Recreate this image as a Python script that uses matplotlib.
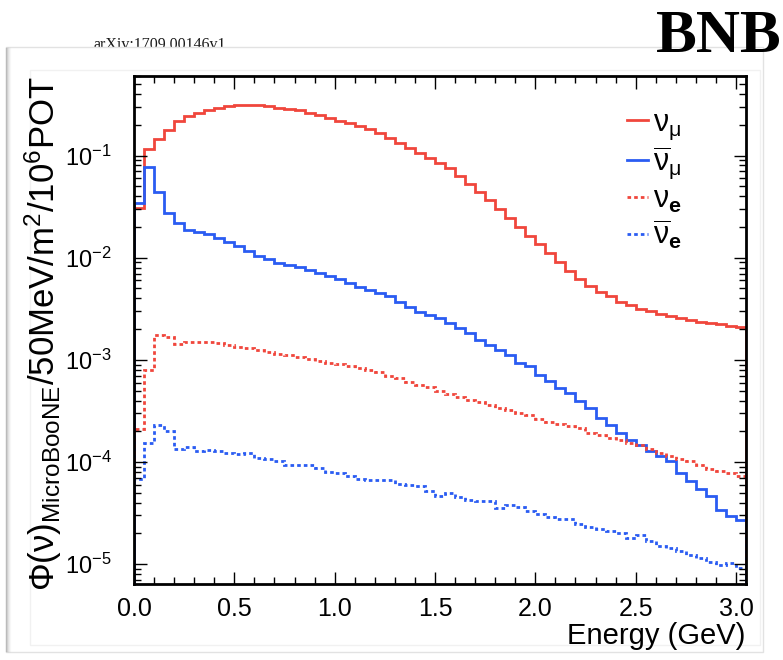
import numpy as np
import matplotlib
matplotlib.use("Agg")
import matplotlib.pyplot as plt
from matplotlib import font_manager
from matplotlib.patches import Rectangle
from matplotlib.lines import Line2D
from matplotlib.ticker import LogLocator, MultipleLocator, NullFormatter

plt.rcParams['font.family'] = ['Liberation Sans', 'DejaVu Sans']
plt.rcParams['mathtext.fontset'] = 'custom'
plt.rcParams['mathtext.rm'] = 'Liberation Sans'
plt.rcParams['mathtext.it'] = 'Liberation Sans'
plt.rcParams['mathtext.bf'] = 'Liberation Sans:bold'
plt.rcParams['axes.unicode_minus'] = False

# 50 MeV bins from 0 to 3.05 GeV
bin_width = 0.05
n_bins = 61
edges = np.arange(n_bins + 1) * bin_width

# flux per 50 MeV / m^2 / 1e6 POT
numu = [0.0307, 0.116, 0.146, 0.176, 0.220, 0.243, 0.262, 0.276, 0.291, 0.302,
        0.309, 0.311, 0.309, 0.305, 0.293, 0.287, 0.278, 0.262, 0.248, 0.234,
        0.220, 0.209, 0.194, 0.180, 0.167, 0.149, 0.133, 0.119, 0.106, 0.0948,
        0.0851, 0.0759, 0.0637, 0.0527, 0.0437, 0.0363, 0.0302, 0.0243, 0.0200, 0.0164,
        0.0135, 0.0112, 0.0090, 0.00746, 0.00617, 0.00525, 0.00457, 0.00417, 0.00372, 0.00344,
        0.00318, 0.00298, 0.00282, 0.00266, 0.00254, 0.00245, 0.00236, 0.00229, 0.00224, 0.00215,
        0.00211]

numubar = [0.0344, 0.0769, 0.0441, 0.0274, 0.0219, 0.0188, 0.0178, 0.0171, 0.0156, 0.0141,
           0.0129, 0.0115, 0.0105, 0.0097, 0.00887, 0.00847, 0.00802, 0.00759, 0.00711, 0.00667,
           0.00612, 0.00562, 0.00521, 0.00483, 0.00449, 0.00417, 0.00372, 0.00332, 0.00296, 0.00275,
           0.00255, 0.00228, 0.00204, 0.00182, 0.00157, 0.00140, 0.00126, 0.00112, 0.000927, 0.000861,
           0.000713, 0.000617, 0.000528, 0.000472, 0.000392, 0.000339, 0.000269, 0.000232, 0.000192, 0.000166,
           0.000148, 0.000127, 0.000114, 0.000102, 7.76e-5, 6.46e-5, 5.50e-5, 4.68e-5, 3.39e-5, 2.95e-5,
           2.69e-5]

nue = [2.09e-4, 7.94e-4, 1.75e-3, 1.68e-3, 1.43e-3, 1.48e-3, 1.51e-3, 1.51e-3, 1.45e-3, 1.41e-3,
       1.35e-3, 1.32e-3, 1.24e-3, 1.20e-3, 1.15e-3, 1.11e-3, 1.07e-3, 1.02e-3, 9.77e-4, 9.42e-4,
       9.12e-4, 8.71e-4, 8.32e-4, 7.94e-4, 7.59e-4, 6.92e-4, 6.61e-4, 6.05e-4, 5.70e-4, 5.37e-4,
       5.01e-4, 4.62e-4, 4.37e-4, 4.07e-4, 3.89e-4, 3.58e-4, 3.39e-4, 3.20e-4, 3.02e-4, 2.90e-4,
       2.63e-4, 2.45e-4, 2.34e-4, 2.24e-4, 2.15e-4, 1.92e-4, 1.85e-4, 1.72e-4, 1.66e-4, 1.55e-4,
       1.48e-4, 1.35e-4, 1.23e-4, 1.14e-4, 1.08e-4, 1.03e-4, 9.42e-5, 8.61e-5, 8.13e-5, 7.82e-5,
       7.24e-5]

nuebar = [6.76e-5, 1.55e-4, 2.29e-4, 2.00e-4, 1.33e-4, 1.40e-4, 1.29e-4, 1.32e-4, 1.27e-4, 1.23e-4,
          1.19e-4, 1.23e-4, 1.10e-4, 1.06e-4, 1.02e-4, 9.42e-5, 9.33e-5, 9.33e-5, 8.81e-5, 7.94e-5,
          7.76e-5, 7.29e-5, 6.76e-5, 6.67e-5, 6.67e-5, 6.61e-5, 6.05e-5, 5.92e-5, 5.78e-5, 5.16e-5,
          4.68e-5, 5.01e-5, 4.57e-5, 4.29e-5, 4.17e-5, 4.13e-5, 3.55e-5, 3.80e-5, 3.63e-5, 3.31e-5,
          3.09e-5, 2.88e-5, 2.75e-5, 2.75e-5, 2.45e-5, 2.32e-5, 2.19e-5, 2.09e-5, 2.04e-5, 1.82e-5,
          1.91e-5, 1.68e-5, 1.51e-5, 1.45e-5, 1.35e-5, 1.24e-5, 1.15e-5, 1.05e-5, 9.77e-6, 1.02e-5,
          9.12e-6]

labels = [r'$\nu_{\mu}$', r'$\overline{\nu}_{\mu}$', r'$\nu_{\mathbf{e}}$', r'$\overline{\nu}_{\mathbf{e}}$']

RED = '#f0463c'
BLUE = '#2a5cf2'
DOTTED = (0, (1.3, 1.1))

W, H = 783, 660


def fx(x):
    return x / W


def fy(y):
    return 1 - y / H


installed = {f.name for f in font_manager.fontManager.ttflist}
stamp_family = 'Liberation Sans Narrow' if 'Liberation Sans Narrow' in installed else 'Liberation Serif'

fig = plt.figure(figsize=(W / 100, H / 100), dpi=100)

# page frame around the plot
fig.text(fx(93), fy(49), 'arXiv:1709.00146v1', family=stamp_family,
         fontsize=11.5, color='#1a1a1a', ha='left', va='baseline', zorder=-3)
fig.add_artist(Rectangle((fx(6), fy(652)), fx(763) - fx(6), fy(47) - fy(652),
                         transform=fig.transFigure, facecolor='white',
                         edgecolor='#e2e2e2', lw=1.0, zorder=-2))
for i, a in enumerate([0.35, 0.25, 0.16, 0.09, 0.04]):
    fig.add_artist(Line2D([fx(6 + i), fx(6 + i)], [fy(48), fy(651)],
                          transform=fig.transFigure, color='#808080', alpha=a,
                          lw=1.0, zorder=-1.5))
fig.add_artist(Rectangle((fx(30), fy(645)), fx(760) - fx(30), fy(70) - fy(645),
                         transform=fig.transFigure, facecolor='none',
                         edgecolor='#f1f1f1', lw=1.0, zorder=-1))
fig.text(fx(782), fy(37), 'BNB', family='Liberation Serif', fontweight='bold',
         fontsize=44, ha='right', va='center', color='black')

ax = fig.add_axes([fx(134), fy(584), fx(746) - fx(134), fy(76) - fy(584)])
ax.set_yscale('log')

series = [(numu, RED, '-'), (numubar, BLUE, '-'), (nue, RED, DOTTED), (nuebar, BLUE, DOTTED)]
handles = []
for vals, color, ls in series:
    ax.stairs(vals, edges, baseline=1e-8, color=color, lw=2.0, linestyle=ls)
    handles.append(Line2D([], [], color=color, lw=2.0, linestyle=ls))

ax.set_xlim(0, 3.05)
ax.set_ylim(6.4e-6, 0.6)

ax.xaxis.set_major_locator(MultipleLocator(0.5))
ax.xaxis.set_minor_locator(MultipleLocator(0.1))
ax.xaxis.set_major_formatter(plt.FuncFormatter(lambda v, p: f'{v:.1f}'))
ax.yaxis.set_major_locator(LogLocator(base=10, numticks=20))
ax.yaxis.set_minor_locator(LogLocator(base=10, subs=np.arange(2, 10), numticks=20))
ax.yaxis.set_minor_formatter(NullFormatter())

ax.tick_params(which='both', direction='in', top=True, right=True, width=1.0, colors='black')
ax.tick_params(which='major', length=9)
ax.tick_params(which='minor', length=5)
ax.tick_params(axis='x', which='major', pad=9, labelsize=18)
ax.tick_params(axis='y', which='major', pad=16, labelsize=17)
for sp in ax.spines.values():
    sp.set_linewidth(2.0)

fig.text(fx(745), fy(636), 'Energy (GeV)', fontsize=21, ha='right', va='center')
fig.text(fx(43), fy(334),
         r'$\Phi(\nu)_{\mathrm{MicroBooNE}}$/50MeV/m$^{2}$/10$^{6}$POT',
         fontsize=25, rotation=90, ha='center', va='center')

ax.legend(handles, labels, loc='upper right', bbox_to_anchor=(0.915, 0.962),
          frameon=False, fontsize=22, handlelength=0.7, handletextpad=0.15,
          labelspacing=0.1, borderaxespad=0)

fig.savefig('out.png', dpi=100)
